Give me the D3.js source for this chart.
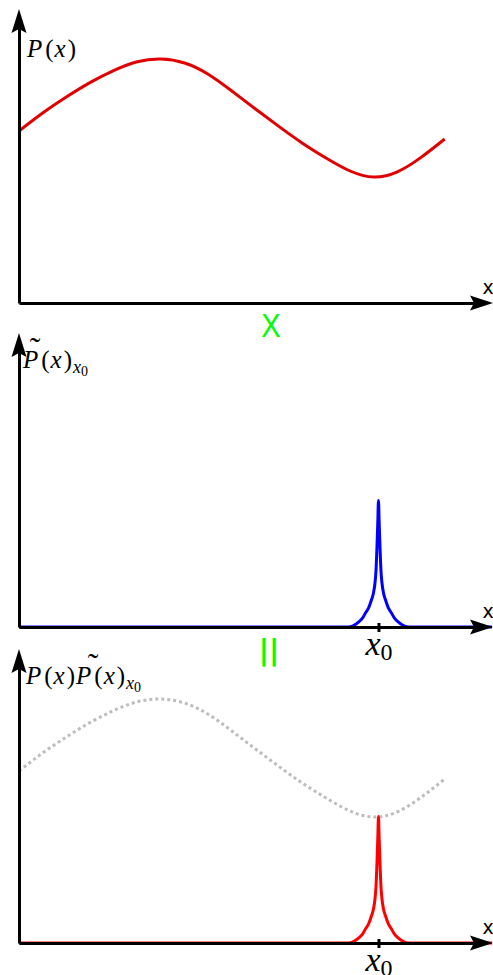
<!DOCTYPE html>
<html>
<head>
<meta charset="utf-8">
<script src="https://cdn.jsdelivr.net/npm/d3@7"></script>
<style>
  html, body { margin: 0; padding: 0; background: #fff; overflow: hidden; }
  svg { display: block; }
</style>
</head>
<body>
<svg id="chart" width="493" height="975"></svg>
<script>
// Smooth density P(x), sampled along x
const xSamples = [0, 0.5, 1, 1.5, 2, 2.5, 3, 3.5, 4, 4.5, 5, 5.5, 6, 6.5, 7, 7.5, 8, 8.5, 9];
const pValues  = [4.30, 4.75, 5.15, 5.51, 5.81, 6.03, 6.10, 6.00, 5.72, 5.30, 4.85, 4.41, 3.99, 3.62, 3.30, 3.15, 3.28, 3.64, 4.10];

// Sharp peak P~(x)_{x0} centred at x0: offsets from x0 and heights
const x0 = 7.6;
const peakOffsets = [0, 0.015, 0.032, 0.053, 0.074, 0.106, 0.148, 0.211, 0.275, 0.338, 0.423, 0.507, 0.592, 0.676];
const peakHeights = [3.16, 2.60, 2.00, 1.40, 1.10, 0.85, 0.68, 0.47, 0.35, 0.22, 0.12, 0.05, 0.01, 0];

const xDomain = [0, 10];
const yMax = 7.35;

const svg = d3.select("#chart");
const xScale = d3.scaleLinear().domain(xDomain).range([19, 492]);

const pCurve = xSamples.map((x, i) => [x, pValues[i]]);
const peakCurve = [[xDomain[0], 0]];
for (let i = peakOffsets.length - 1; i >= 1; i--) peakCurve.push([x0 - peakOffsets[i], peakHeights[i]]);
peakCurve.push([x0, peakHeights[0]]);
for (let i = 1; i < peakOffsets.length; i++) peakCurve.push([x0 + peakOffsets[i], peakHeights[i]]);
peakCurve.push([xDomain[1], 0]);

const SERIF = "Liberation Serif";

function drawPanel(base, opts) {
  const g = svg.append("g");
  const y = d3.scaleLinear().domain([0, yMax]).range([base, base - 294]);
  const line = d3.line().x(d => xScale(d[0])).y(d => y(d[1]));

  if (opts.dotted) {
    g.append("path").datum(pCurve)
      .attr("d", line.curve(d3.curveNatural))
      .attr("fill", "none").attr("stroke", "#bdbdbd")
      .attr("stroke-width", 3).attr("stroke-dasharray", "3,3");
  }
  if (opts.pColor) {
    g.append("path").datum(pCurve)
      .attr("d", line.curve(d3.curveNatural))
      .attr("fill", "none").attr("stroke", opts.pColor).attr("stroke-width", 3);
  }
  if (opts.peakColor) {
    g.append("path").datum(peakCurve)
      .attr("d", line.curve(d3.curveMonotoneX))
      .attr("fill", "none").attr("stroke", opts.peakColor).attr("stroke-width", 3);
  }

  // axes (lines stop short of the arrow tips)
  const yAxisScale = y.copy().domain([0, yMax - 0.4]).range([base, y(yMax - 0.4)]);
  g.append("g").attr("transform", `translate(${xScale(0)},0)`)
    .call(d3.axisLeft(yAxisScale).tickValues([]).tickSizeOuter(0))
    .call(s => s.select(".domain").attr("stroke", "#000").attr("stroke-width", 3));

  const xAxisScale = xScale.copy().domain([0, 9.7]).range([xScale(0), xScale(9.7)]);
  const xAxis = d3.axisBottom(xAxisScale).tickSizeOuter(0).tickSizeInner(5).tickFormat("")
    .tickValues(opts.tick ? [x0] : []);
  const xg = g.append("g").attr("transform", `translate(0,${base})`).call(xAxis);
  xg.select(".domain").attr("stroke", "#000").attr("stroke-width", 3);
  xg.selectAll(".tick line").attr("y1", -4).attr("y2", 5).attr("stroke", "#000").attr("stroke-width", 3);
  if (opts.tick) {
    const t = xg.select(".tick").append("text")
      .attr("y", 28).attr("fill", "#000").attr("text-anchor", "middle")
      .attr("font-family", SERIF);
    t.append("tspan").attr("font-family", SERIF).attr("font-style", "italic").attr("font-size", 34).text("x");
    t.append("tspan").attr("font-family", SERIF).attr("font-size", 24).attr("dy", 5).text("0");
  }

  // arrow heads
  const top = y(yMax), ax = xScale(0);
  g.append("path")
    .attr("d", `M${ax},${top} L${ax + 7.5},${top + 24} L${ax},${top + 20} L${ax - 7.5},${top + 24} Z`)
    .attr("fill", "#000");
  const tip = 493;
  g.append("path")
    .attr("d", `M${tip},${base} L${tip - 23},${base - 7.5} L${tip - 19},${base} L${tip - 23},${base + 7.5} Z`)
    .attr("fill", "#000");

  // axis name
  g.append("text").attr("x", 488).attr("y", base - 9)
    .attr("text-anchor", "middle").attr("font-size", 19)
    .attr("font-family", "DejaVu Sans").text("x");

  return g;
}

function label(g, x, yb, parts) {
  const t = g.append("text").attr("x", x).attr("y", yb).attr("font-family", SERIF).attr("fill", "#000");
  parts.forEach(p => {
    const s = t.append("tspan").attr("font-family", SERIF).attr("font-size", p.size || 25).text(p.t);
    if (p.it) s.attr("font-style", "italic");
    if (p.dy) s.attr("dy", p.dy);
    if (p.dx) s.attr("dx", p.dx);
  });
  return t;
}

function tilde(g, cx, yb) {
  g.append("text").attr("x", cx).attr("y", yb).attr("text-anchor", "middle")
    .attr("font-size", 32).attr("font-family", SERIF).text("˜");
}

// Panel 1: P(x)
const g1 = drawPanel(303, { pColor: "#e00000" });
label(g1, 27, 57, [{t: "P", it: true}, {t: "(", dx: 3}, {t: "x", it: true, dx: 1}, {t: ")", dx: 2}]);

// Panel 2: P~(x)_{x0}
const g2 = drawPanel(627, { peakColor: "#0000ff", tick: true });
label(g2, 23, 368, [{t: "P", it: true}, {t: "(", dx: 3}, {t: "x", it: true, dx: 1}, {t: ")", dx: 2},
  {t: "x", it: true, size: 18, dy: 5, dx: 1}, {t: "0", size: 14, dy: 3}]);
tilde(g2, 35, 359);

// Panel 3: P(x) P~(x)_{x0}
const g3 = drawPanel(943, { dotted: true, peakColor: "#ff0000", tick: true });
label(g3, 26, 684, [{t: "P", it: true}, {t: "(", dx: 3}, {t: "x", it: true, dx: 1}, {t: ")", dx: 2},
  {t: "P", it: true, dx: 1}, {t: "(", dx: 3}, {t: "x", it: true, dx: 1}, {t: ")", dx: 2},
  {t: "x", it: true, size: 18, dy: 5, dx: 1}, {t: "0", size: 14, dy: 3}]);
tilde(g3, 93, 675);

// operators between the panels
svg.append("text").attr("x", 271).attr("y", 337).attr("text-anchor", "middle")
  .attr("font-size", 33).attr("fill", "#00ff00")
  .attr("transform", "translate(271,0) scale(0.88,1) translate(-271,0)")
  .attr("font-family", "Liberation Sans").text("X");
svg.append("text").attr("x", 269).attr("y", 660).attr("text-anchor", "middle")
  .attr("font-size", 28).attr("font-weight", "bold").attr("fill", "#00ff00")
  .attr("font-family", "DejaVu Sans").text("||");
</script>
</body>
</html>
